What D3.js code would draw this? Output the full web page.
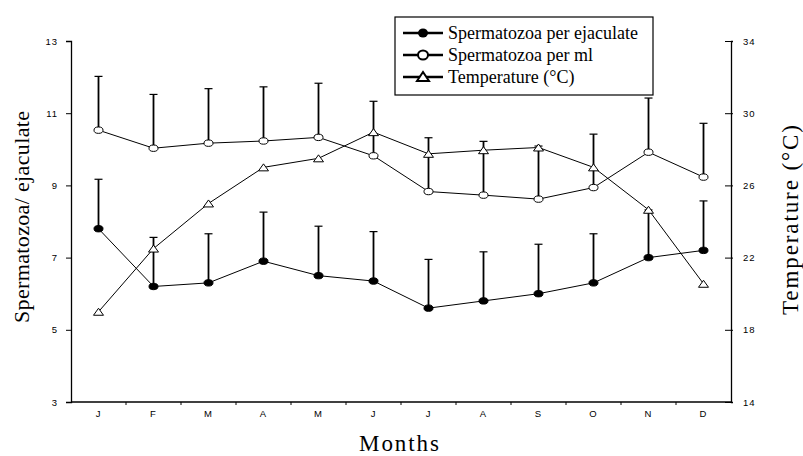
<!DOCTYPE html>
<html>
<head>
<meta charset="utf-8">
<script src="https://cdn.jsdelivr.net/npm/d3@7/dist/d3.min.js"></script>
<style>
  html, body { margin: 0; padding: 0; background: #fff; }
  svg { display: block; }
  .tick-label { font-family: "Liberation Sans", Arial, sans-serif; font-size: 9.5px; letter-spacing: 1px; fill: #000; }
  .serif { font-family: "Liberation Serif", "Times New Roman", serif; fill: #000; }
</style>
</head>
<body>
<svg id="chart" width="803" height="456"></svg>
<script>
// ---- data ----
const months = ["J", "F", "M", "A", "M", "J", "J", "A", "S", "O", "N", "D"];
const perEjaculate = [7.8, 6.2, 6.3, 6.9, 6.5, 6.35, 5.6, 5.8, 6.0, 6.3, 7.0, 7.2];
const perEjaculateErr = [1.37, 1.36, 1.36, 1.36, 1.37, 1.37, 1.35, 1.36, 1.37, 1.36, 1.32, 1.37];
const perMl = [10.53, 10.03, 10.17, 10.23, 10.33, 9.82, 8.83, 8.73, 8.62, 8.94, 9.92, 9.23];
const perMlErr = [1.49, 1.49, 1.51, 1.50, 1.50, 1.51, 1.49, 1.49, 1.47, 1.48, 1.50, 1.49];
const temperature = [19.0, 22.5, 25.0, 27.0, 27.5, 28.95, 27.75, 27.95, 28.1, 27.0, 24.65, 20.55];
const leftTicks = [3, 5, 7, 9, 11, 13];
const rightTicks = [14, 18, 22, 26, 30, 34];
const legendLabels = ["Spermatozoa per ejaculate", "Spermatozoa per ml", "Temperature (°C)"];

// ---- layout ----
const plot = { left: 71, right: 731, top: 41, bottom: 402 };
const svg = d3.select("#chart");

const x = d3.scaleBand().domain(d3.range(months.length))
  .range([plot.left, plot.right]).paddingInner(0).paddingOuter(0);
const xc = i => x(i) + x.bandwidth() / 2;
const yL = d3.scaleLinear().domain([3, 13]).range([plot.bottom, plot.top]);
const yR = d3.scaleLinear().domain([14, 34]).range([plot.bottom, plot.top]);

// ---- axes ----
const gx = svg.append("g");
gx.append("line").attr("x1", plot.left).attr("x2", plot.right)
  .attr("y1", plot.bottom).attr("y2", plot.bottom)
  .attr("stroke", "#000").attr("stroke-width", 1.3);
gx.selectAll(".xt").data(d3.range(1, months.length)).join("line")
  .attr("x1", i => x(i)).attr("x2", i => x(i))
  .attr("y1", plot.bottom).attr("y2", plot.bottom + 3)
  .attr("stroke", "#000").attr("stroke-width", 1);
gx.selectAll(".xl").data(months).join("text")
  .attr("class", "tick-label")
  .attr("x", (d, i) => xc(i)).attr("y", plot.bottom + 15)
  .attr("text-anchor", "middle").text(d => d);

const gl = svg.append("g").attr("transform", `translate(${plot.left},0)`)
  .call(d3.axisLeft(yL).tickValues(leftTicks).tickSize(5).tickPadding(8).tickFormat(d3.format("d")));
gl.select(".domain").attr("stroke-width", 1.3);
gl.selectAll(".tick line").attr("stroke-width", 1);
gl.selectAll(".tick text").attr("class", "tick-label").attr("font-family", null).attr("font-size", null);

const gr = svg.append("g").attr("transform", `translate(${plot.right},0)`)
  .call(d3.axisRight(yR).tickValues(rightTicks).tickSize(2).tickPadding(10).tickFormat(d3.format("d")));
gr.select(".domain").attr("stroke-width", 1.3);
gr.selectAll(".tick line").attr("x1", -6).attr("stroke-width", 1);
gr.selectAll(".tick text").attr("class", "tick-label").attr("font-family", null).attr("font-size", null);

// ---- series ----
const line = (vals, sc) => d3.line().x((d, i) => xc(i)).y(d => sc(d))(vals);

svg.append("path").attr("d", line(perMl, yL)).attr("fill", "none").attr("stroke", "#000").attr("stroke-width", 1);
svg.append("path").attr("d", line(perEjaculate, yL)).attr("fill", "none").attr("stroke", "#000").attr("stroke-width", 1);
svg.append("path").attr("d", line(temperature, yR)).attr("fill", "none").attr("stroke", "#000").attr("stroke-width", 1);

function errorBars(vals, errs) {
  const g = svg.append("g").attr("stroke", "#000");
  g.selectAll(".v").data(vals).join("line")
    .attr("x1", (d, i) => xc(i)).attr("x2", (d, i) => xc(i))
    .attr("y1", d => yL(d)).attr("y2", (d, i) => yL(d + errs[i]))
    .attr("stroke-width", 1.8);
  g.selectAll(".c").data(vals).join("line")
    .attr("x1", (d, i) => xc(i) - 4).attr("x2", (d, i) => xc(i) + 4)
    .attr("y1", (d, i) => yL(d + errs[i])).attr("y2", (d, i) => yL(d + errs[i]))
    .attr("stroke-width", 1.2);
}
errorBars(perMl, perMlErr);
errorBars(perEjaculate, perEjaculateErr);

const triPath = (cx, cy, w, h) => `M${cx - w / 2},${cy + h / 2}L${cx + w / 2},${cy + h / 2}L${cx},${cy - h / 2}Z`;

svg.append("g").selectAll("path").data(temperature).join("path")
  .attr("d", (d, i) => triPath(xc(i), yR(d), 10, 7))
  .attr("fill", "#fff").attr("stroke", "#000").attr("stroke-width", 1);
svg.append("g").selectAll("ellipse").data(perMl).join("ellipse")
  .attr("cx", (d, i) => xc(i)).attr("cy", d => yL(d)).attr("rx", 4.5).attr("ry", 3.2)
  .attr("fill", "#fff").attr("stroke", "#000").attr("stroke-width", 1);
svg.append("g").selectAll("ellipse").data(perEjaculate).join("ellipse")
  .attr("cx", (d, i) => xc(i)).attr("cy", d => yL(d)).attr("rx", 4.5).attr("ry", 3.2)
  .attr("fill", "#000").attr("stroke", "#000").attr("stroke-width", 1);

// ---- titles ----
svg.append("text").attr("class", "serif").attr("font-size", 22)
  .attr("transform", `translate(29,217) rotate(-90)`).attr("text-anchor", "middle")
  .attr("textLength", 212).attr("lengthAdjust", "spacing")
  .text("Spermatozoa/ ejaculate");
svg.append("text").attr("class", "serif").attr("font-size", 23)
  .attr("transform", `translate(798,220) rotate(-90)`).attr("text-anchor", "middle")
  .attr("textLength", 190).attr("lengthAdjust", "spacing")
  .text("Temperature (°C)");
svg.append("text").attr("class", "serif").attr("font-size", 23)
  .attr("x", 399).attr("y", 451).attr("text-anchor", "middle")
  .attr("textLength", 80).attr("lengthAdjust", "spacing").text("Months");

// ---- legend ----
const lg = svg.append("g");
lg.append("rect").attr("x", 395).attr("y", 17).attr("width", 258).attr("height", 78)
  .attr("fill", "#fff").attr("stroke", "#000").attr("stroke-width", 1.2);
const rows = [33, 55, 77];
legendLabels.forEach((lab, k) => {
  const yy = rows[k];
  lg.append("line").attr("x1", 403).attr("x2", 443).attr("y1", yy).attr("y2", yy)
    .attr("stroke", "#000").attr("stroke-width", 2.5);
  if (k === 0) {
    lg.append("ellipse").attr("cx", 423).attr("cy", yy).attr("rx", 5).attr("ry", 4.5).attr("fill", "#000");
  } else if (k === 1) {
    lg.append("ellipse").attr("cx", 423).attr("cy", yy).attr("rx", 5).attr("ry", 4.5)
      .attr("fill", "#fff").attr("stroke", "#000").attr("stroke-width", 2);
  } else {
    lg.append("path").attr("d", triPath(423, yy - 0.5, 12, 9))
      .attr("fill", "#fff").attr("stroke", "#000").attr("stroke-width", 2);
  }
  lg.append("text").attr("class", "serif").attr("font-size", 18)
    .attr("x", 448).attr("y", yy + 5.5).text(lab);
});
</script>
</body>
</html>
